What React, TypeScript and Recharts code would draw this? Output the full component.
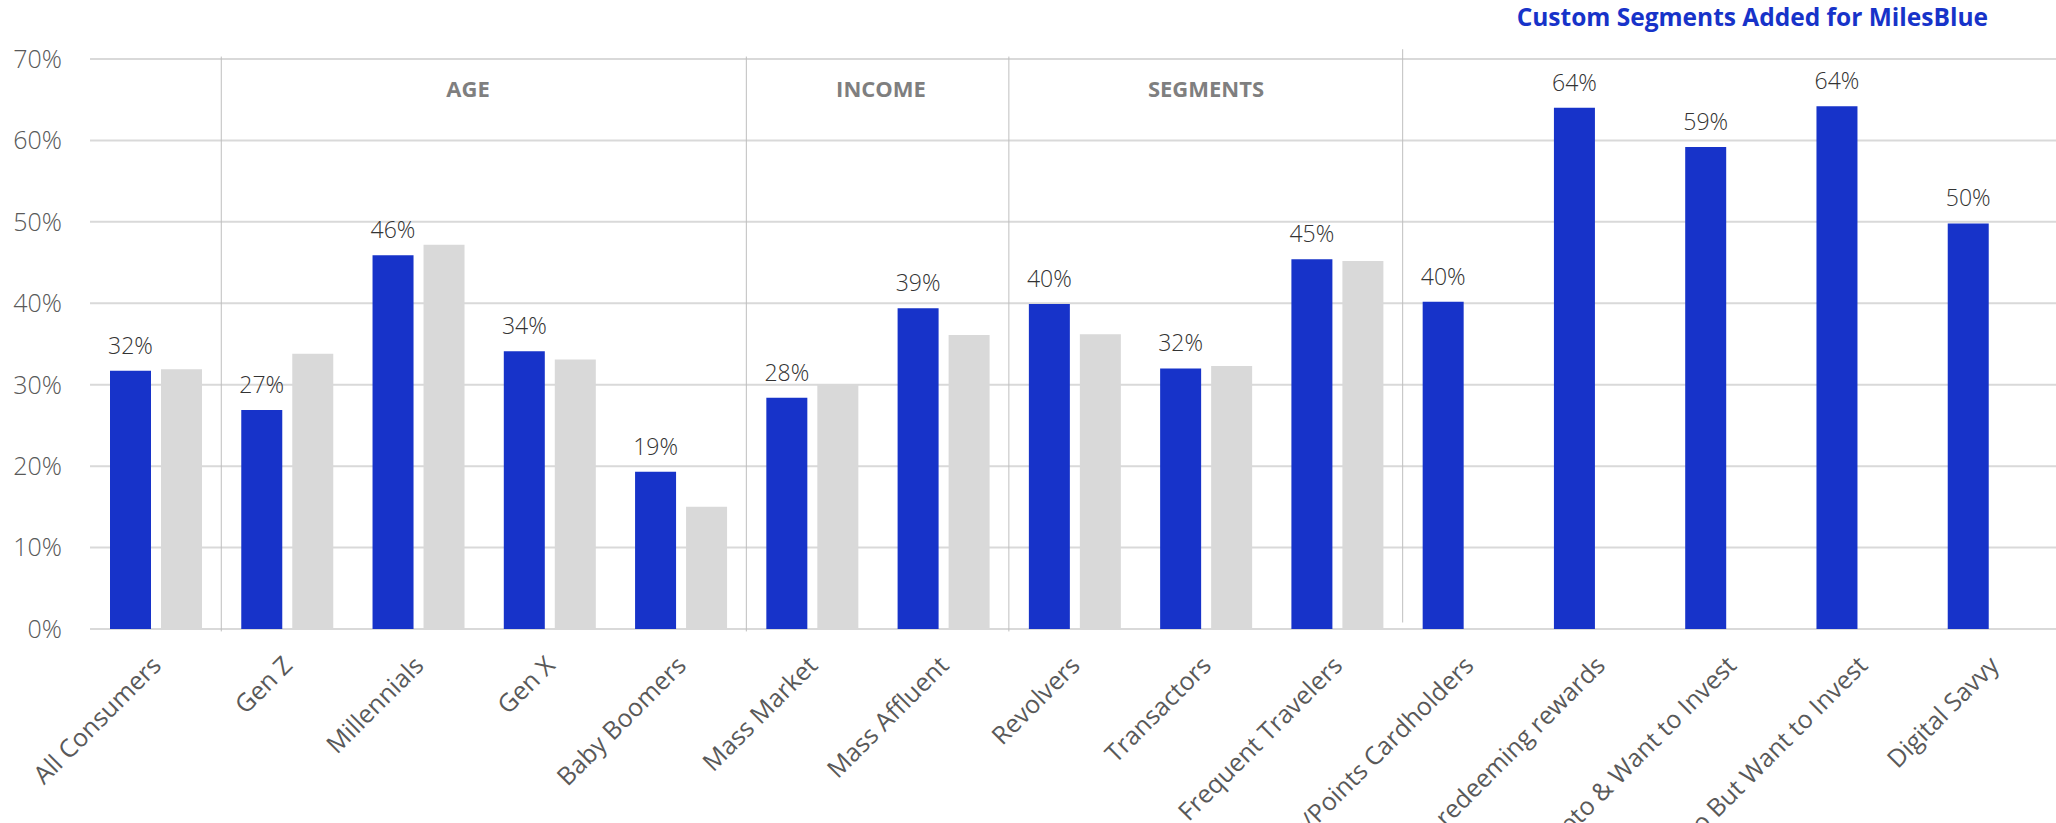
import React from 'react';
import { BarChart, Bar, XAxis, YAxis, CartesianGrid, LabelList, ReferenceLine } from 'recharts';

const categories = [
  'All Consumers',
  'Gen Z',
  'Millennials',
  'Gen X',
  'Baby Boomers',
  'Mass Market',
  'Mass Affluent',
  'Revolvers',
  'Transactors',
  'Frequent Travelers',
  'Miles/Points Cardholders',
  'Struggle redeeming rewards',
  'Own Crypto & Want to Invest',
  "Don't Own Crypto But Want to Invest",
  'Digital Savvy',
];
const milesBlueValues = [31.7, 26.9, 45.9, 34.1, 19.3, 28.4, 39.4, 39.9, 32.0, 45.4, 40.2, 64.0, 59.2, 64.2, 49.8];
const benchmarkValues: (number | null)[] = [31.9, 33.8, 47.2, 33.1, 15.0, 30.1, 36.1, 36.2, 32.3, 45.2, null, null, null, null, null];
const yTicks = [0, 10, 20, 30, 40, 50, 60, 70];
const sectionTitles = ['AGE', 'INCOME', 'SEGMENTS'];
const sectionStarts = ['Gen Z', 'Mass Market', 'Revolvers'];
const customStart = 'Miles/Points Cardholders';
const customTitle = 'Custom Segments Added for MilesBlue';

const data = categories.map((name, i) => ({
  name,
  milesBlue: milesBlueValues[i],
  benchmark: benchmarkValues[i],
}));

const FONT = '"Open Sans", sans-serif';
const BLUE = '#1733C9';

const XTick = (props: any) => {
  const { x, y, payload } = props;
  return (
    <text
      transform={`translate(${x + 7},${y + 38}) rotate(-45)`}
      textAnchor="end"
      fill="#595959"
      fontSize={25}
      fontFamily={FONT}
    >
      {payload.value}
    </text>
  );
};

const headerX = [468, 881, 1206];

export default function App() {
  return (
    <div style={{ position: 'absolute', left: 0, top: 0, width: 2056, height: 823, overflow: 'hidden', background: '#fff' }}>
      <BarChart
        width={2059}
        height={823}
        data={data}
        margin={{ top: 59, right: 0, bottom: 0, left: 0 }}
        barGap={10}
        barSize={41}
      >
        <CartesianGrid vertical={false} stroke="#D9D9D9" strokeWidth={2} />
        <XAxis
          dataKey="name"
          axisLine={false}
          tickLine={false}
          tickSize={0}
          tickMargin={0}
          interval={0}
          height={194}
          tick={<XTick />}
        />
        <YAxis
          domain={[0, 70]}
          ticks={yTicks}
          width={90}
          axisLine={false}
          tickLine={false}
          tickSize={0}
          tickMargin={28}
          tickFormatter={(v: number) => `${v}%`}
          tick={{ fill: '#595959', fontSize: 25, fontFamily: FONT, fontWeight: 300 }}
        />
        {sectionStarts.map((c) => (
          <ReferenceLine
            key={c}
            segment={[{ x: c, y: -0.3 }, { x: c, y: 70.3 }]}
            position="start"
            stroke="#BFBFBF"
            strokeWidth={1}
            ifOverflow="visible"
          />
        ))}
        <ReferenceLine
          segment={[{ x: customStart, y: 0.8 }, { x: customStart, y: 71.2 }]}
          position="start"
          stroke="#BFBFBF"
          strokeWidth={1}
          ifOverflow="visible"
        />
        <Bar dataKey="milesBlue" fill={BLUE} isAnimationActive={false}>
          <LabelList
            dataKey="milesBlue"
            position="top"
            offset={17}
            formatter={(v: any) => `${Math.round(Number(v))}%`}
            fill="#333333"
            fontSize={23}
            fontWeight={300}
            fontFamily={FONT}
          />
        </Bar>
        <Bar dataKey="benchmark" fill="#D9D9D9" isAnimationActive={false} />
      </BarChart>
      <svg width={2056} height={823} style={{ position: 'absolute', left: 0, top: 0, pointerEvents: 'none' }}>
        {sectionTitles.map((t, i) => (
          <text key={t} x={headerX[i]} y={96.5} textAnchor="middle" fill="#7F7F7F" fontSize={22} fontWeight={700} fontFamily={FONT}>
            {t}
          </text>
        ))}
        <text x={1988} y={26} textAnchor="end" fill={BLUE} fontSize={24.5} fontWeight={700} fontFamily={FONT}>
          {customTitle}
        </text>
      </svg>
    </div>
  );
}
